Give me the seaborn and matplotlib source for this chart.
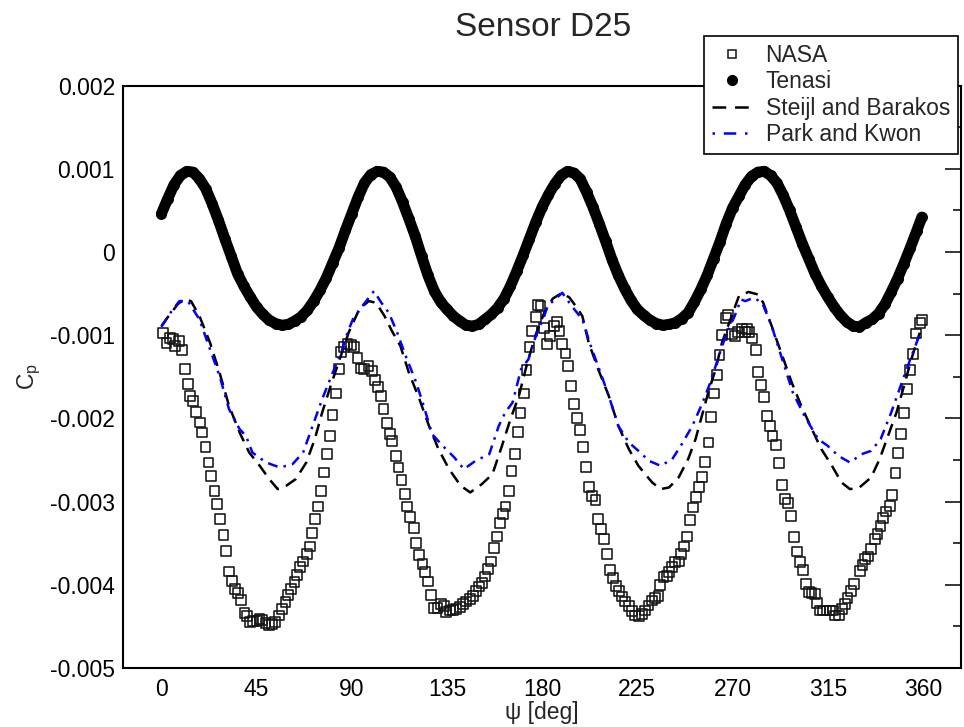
import matplotlib
matplotlib.use("Agg")
import numpy as np
import pandas as pd
import matplotlib.pyplot as plt
import seaborn as sns
from matplotlib.lines import Line2D
from matplotlib.ticker import MultipleLocator, FuncFormatter

# values (Cp given in units of 1e-4)
nasa_psi = [0.8, 2.4, 4.0, 5.5, 6.6, 8.3, 9.7, 11.0, 12.6, 13.7, 14.9, 16.5, 18.1, 19.1, 20.9,
            22.3, 23.6, 25.1, 26.4, 27.8, 29.4, 30.6, 31.9, 33.5, 34.9, 36.1, 37.7, 39.3, 40.4,
            42.0, 43.5, 45.1, 46.4, 47.6, 49.2, 50.8, 52.4, 53.9, 55.5, 57.1, 58.7, 59.9, 61.3,
            62.9, 64.0, 65.6, 67.1, 68.7, 70.3, 71.2, 72.8, 74.2, 75.6, 77.0, 78.3, 79.7, 80.9,
            82.5, 83.8, 85.0, 86.4, 88.0, 89.6, 91.2, 92.7, 94.3, 95.9, 97.9, 99.5, 100.9, 102.5,
            103.8, 105.0, 106.6, 108.0, 109.2, 110.8, 112.1, 113.5, 115.1, 116.3, 117.7, 119.3,
            120.5, 121.8, 123.4, 124.8, 126.2, 127.6, 128.9, 130.5, 132.1, 133.6, 134.7, 136.3,
            137.9, 139.4, 141.0, 142.6, 144.1, 145.7, 147.3, 148.9, 150.1, 151.4, 152.8, 154.3,
            155.8, 157.2, 158.6, 160.1, 161.3, 162.7, 164.3, 165.5, 167.0, 168.4, 169.8, 171.4,
            172.6, 174.0, 175.3, 176.9, 178.0, 179.2, 181.0, 182.4, 183.9, 185.5, 187.0, 188.2,
            189.4, 191.0, 192.2, 193.7, 194.9, 196.5, 197.8, 199.2, 200.9, 202.0, 203.6, 205.2,
            206.4, 207.8, 209.4, 210.6, 211.9, 213.3, 214.9, 216.2, 217.7, 219.3, 220.9, 222.4,
            224.0, 225.6, 227.1, 228.7, 230.3, 231.8, 233.4, 235.0, 235.8, 237.4, 238.9, 240.1,
            241.3, 242.9, 244.5, 245.7, 247.1, 248.6, 250.0, 251.4, 252.8, 254.2, 255.6, 257.0,
            258.6, 259.9, 261.3, 262.5, 263.8, 265.2, 266.8, 268.0, 269.6, 271.2, 272.7, 274.3,
            275.9, 277.0, 277.9, 279.3, 280.9, 282.2, 283.5, 284.9, 286.4, 287.7, 288.9, 290.5,
            291.9, 293.2, 294.8, 296.3, 297.6, 299.1, 300.4, 301.8, 303.4, 304.9, 306.1, 307.3,
            308.9, 310.1, 311.4, 312.8, 314.4, 316.0, 317.5, 318.6, 320.2, 321.8, 323.1, 324.3,
            325.9, 327.3, 330.1, 331.4, 332.8, 334.1, 335.6, 337.3, 338.5, 339.9, 341.3, 342.7,
            344.3, 345.4, 347.0, 348.3, 349.6, 351.0, 352.4, 354.0, 355.3, 356.9, 358.5, 359.7]
nasa_cp = [-9.7, -10.9, -10.3, -10.5, -11.3, -10.7, -11.8, -14.1, -15.9, -17.3, -17.9, -19.2, -20.5, -21.7, -23.4,
           -25.3, -26.9, -28.7, -30.3, -32.1, -34.0, -35.9, -38.4, -39.5, -40.5, -41.0, -41.8, -43.4, -43.8,
           -44.5, -44.4, -44.4, -44.1, -44.2, -44.6, -44.8, -44.7, -44.5, -43.7, -42.9, -42.1, -41.2, -40.5,
           -39.7, -38.8, -37.9, -37.2, -36.3, -35.4, -33.8, -32.1, -30.6, -28.7, -26.5, -24.3, -22.1, -19.6,
           -17.0, -14.1, -12.0, -11.4, -11.1, -11.2, -11.4, -12.7, -14.0, -14.1, -13.7, -14.3, -15.4, -16.2,
           -17.3, -18.9, -20.6, -21.9, -22.7, -24.5, -25.9, -27.4, -29.1, -30.6, -31.9, -33.2,
           -35.0, -36.4, -37.5, -38.5, -39.6, -41.2, -42.8, -42.8, -42.3, -42.6, -43.3, -43.1,
           -43.0, -42.9, -42.7, -42.3, -42.0, -41.7, -41.3, -40.7, -40.2, -39.8, -39.0, -38.1,
           -37.2, -35.6, -34.2, -32.6, -31.5, -30.6, -28.7, -26.3, -24.3, -21.6, -19.4, -17.0,
           -14.2, -11.4, -9.5, -7.8, -6.4, -6.5, -9.1, -11.1, -10.1, -8.9, -8.4, -9.5,
           -11.1, -12.2, -13.7, -16.1, -18.3, -20.0, -21.4, -23.4, -25.8, -28.2, -29.3, -29.8,
           -32.1, -33.3, -34.5, -36.3, -38.2, -39.2, -40.1, -40.7, -41.4, -42.0, -42.6, -43.2,
           -43.7, -43.8, -43.5, -43.1, -42.5, -41.9, -41.6, -41.3, -40.0, -39.1, -38.9, -38.5,
           -37.9, -37.3, -37.2, -36.3, -35.4, -34.2, -32.2, -30.7, -29.4, -28.2, -27.0, -25.2,
           -22.9, -19.8, -17.0, -14.8, -12.4, -10.0, -7.9, -7.6, -9.9, -10.1, -9.6, -9.2,
           -9.6, -9.3, -9.6, -10.4, -11.8, -14.4, -16.0, -17.4, -19.7, -20.9, -22.1, -23.2,
           -25.4, -28.0, -29.7, -30.2, -31.7, -34.3, -36.0, -37.3, -38.2, -39.9, -40.9, -41.0,
           -41.1, -42.2, -43.1, -43.1, -43.1, -43.1, -43.1, -43.7, -43.7, -42.9, -42.3, -41.6,
           -40.7, -39.9, -38.3, -37.6, -36.9, -36.6, -35.7, -34.5, -33.9, -32.9, -32.0, -31.2,
           -30.5, -29.2, -26.6, -24.2, -21.9, -19.4, -16.5, -14.2, -12.3, -9.8, -8.5, -8.2]

tenasi_psi = [0, 3, 6, 9, 12, 15, 18, 21, 24, 27, 30, 33, 36, 39, 42, 45, 48, 51, 54, 57,
              60, 63, 66, 69, 72, 75, 78, 81, 84, 87, 90, 93, 96, 99, 102, 105, 108, 111, 114, 117,
              120, 123, 126, 129, 132, 135, 138, 141, 144, 147, 150, 153, 156, 159, 162, 165, 168, 171, 174, 177,
              180, 183, 186, 189, 192, 195, 198, 201, 204, 207, 210, 213, 216, 219, 222, 225, 228, 231, 234, 237,
              240, 243, 246, 249, 252, 255, 258, 261, 264, 267, 270, 273, 276, 279, 282, 285, 288, 291, 294, 297,
              300, 303, 306, 309, 312, 315, 318, 321, 324, 327, 330, 333, 336, 339, 342, 345, 348, 351, 354, 357,
              359.5]
tenasi_cp = [4.6, 6.4, 8.1, 9.2, 9.7, 9.6, 8.8, 7.6, 5.8, 3.8, 1.6, -0.5, -2.6, -4.1, -5.4, -6.6, -7.5, -8.2, -8.6, -8.8,
             -8.7, -8.3, -7.8, -7.0, -5.9, -4.6, -3.1, -1.3, 0.5, 2.6, 4.6, 6.6, 8.3, 9.3, 9.7, 9.6, 9.0, 7.8, 6.0, 4.0,
             1.9, -0.5, -2.8, -4.7, -6.0, -6.9, -7.7, -8.3, -8.8, -8.9, -8.7, -8.1, -7.5, -6.7, -5.6, -4.1, -2.3, -0.4, 1.6, 3.6,
             5.4, 6.9, 8.2, 9.2, 9.7, 9.5, 8.8, 7.2, 5.4, 3.4, 1.3, -0.9, -2.8, -4.4, -5.8, -6.9, -7.6, -8.2, -8.6, -8.8,
             -8.7, -8.5, -8.0, -7.3, -6.0, -4.5, -2.8, -0.8, 1.2, 3.4, 5.3, 6.7, 8.1, 9.1, 9.6, 9.7, 9.2, 8.3, 6.8, 5.0,
             3.0, 1.0, -0.8, -2.6, -4.1, -5.4, -6.6, -7.6, -8.4, -8.9, -9.0, -8.5, -8.1, -7.4, -6.3, -4.8, -3.2, -1.4, 0.5, 2.5,
             4.2]

steijl_psi = [0, 4, 8, 11, 14, 18, 23, 27.5, 32, 37, 41.5, 46.5, 51, 55, 59, 63.5, 68.5, 72.5, 76, 80,
              84, 88.5, 93.5, 98, 101.5, 105.5, 109, 113, 117, 122, 126.5, 131, 136, 141.5, 146, 151.5, 156.5,
              161, 165, 169, 173, 177, 181, 185, 189.5, 193, 197, 199, 202, 206.5, 211.5, 216, 221, 225.5,
              232, 236, 240, 244.5, 249, 252.5, 255.5, 258.5, 262, 265, 269, 273, 277.5, 282, 284.5, 288.5,
              293, 298, 302.5, 307.5, 312, 317, 321.5, 325.5, 330, 335.5, 339.5, 343.5, 347.5, 351.5, 354.5, 358.5]
steijl_cp = [-8.9, -7.5, -6.2, -5.7, -5.9, -7.7, -10.9, -14.5, -18.5, -21.7, -24.1, -25.7, -27.3, -28.5, -28.1, -27.3, -25.3, -22.5, -19.3, -16.1,
             -13.1, -9.7, -6.9, -5.9, -6.1, -7.7, -9.5, -11.3, -14.5, -17.7, -20.9, -23.7, -26.1, -28.1, -28.9, -27.9, -26.7,
             -23.3, -20.1, -17.3, -13.3, -9.9, -7.3, -5.6, -4.9, -5.5, -6.9, -7.7, -10.9, -14.1, -17.3, -20.9, -23.7, -25.7,
             -27.7, -28.5, -28.3, -27.1, -24.9, -22.5, -19.7, -16.9, -14.1, -10.9, -8.1, -5.3, -4.8, -5.1, -6.1, -8.9,
             -12.1, -15.7, -18.5, -21.3, -23.7, -25.7, -27.7, -28.5, -28.3, -27.1, -24.9, -22.1, -19.3, -15.7, -12.9, -9.7]

park_psi = [0, 4, 8.5, 12.5, 18, 23, 27.5, 32, 37, 40, 43, 49.5, 56, 62, 67, 71.5, 76, 81, 85, 88,
            90.5, 95, 100.5, 104, 107.5, 111.5, 115.5, 120.5, 124, 128, 133, 138.5, 143, 148.5, 155, 159.5,
            162.5, 166, 170, 173.5, 177, 181, 182.5, 189.5, 194, 199, 203, 207, 211.5, 216, 221, 225.5,
            230.5, 236, 241.5, 246, 251, 255.5, 259.5, 263.5, 267, 271, 274, 276, 280, 284, 288.5, 293,
            298.5, 304, 310.5, 315, 320, 325.5, 331, 335.5, 340, 345, 350, 354, 358.5]
park_cp = [-9.0, -7.4, -5.9, -5.9, -8.1, -11.7, -14.9, -18.9, -21.3, -22.1, -24.1, -25.3, -25.9, -25.5, -24.1, -20.9, -17.7, -14.5, -12.1, -9.7,
           -8.1, -6.5, -4.7, -6.1, -7.3, -9.7, -12.5, -15.7, -18.5, -21.9, -23.3, -24.7, -26.1, -25.1, -24.3, -20.9,
           -19.3, -18.1, -14.1, -12.9, -10.1, -7.7, -6.5, -4.9, -6.5, -8.1, -11.3, -14.1, -17.3, -20.9, -22.9, -23.9,
           -25.1, -25.7, -24.9, -23.1, -20.9, -18.3, -15.7, -12.5, -9.9, -7.7, -5.7, -5.9, -5.5, -6.1, -8.9, -12.5,
           -16.9, -19.7, -22.5, -23.3, -24.5, -25.3, -24.3, -23.9, -22.5, -19.3, -15.7, -12.9, -9.9]

nasa = pd.DataFrame({"psi": nasa_psi, "cp": np.array(nasa_cp) * 1e-4})
tenasi = pd.DataFrame({"psi": tenasi_psi, "cp": np.array(tenasi_cp) * 1e-4})
steijl = pd.DataFrame({"psi": steijl_psi, "cp": np.array(steijl_cp) * 1e-4})
park = pd.DataFrame({"psi": park_psi, "cp": np.array(park_cp) * 1e-4})

sns.set_style("white")
plt.rcParams["font.family"] = ["Liberation Sans", "DejaVu Sans"]
plt.rcParams["mathtext.fontset"] = "custom"
plt.rcParams["mathtext.rm"] = "Liberation Sans"
plt.rcParams["axes.unicode_minus"] = False

fig = plt.figure(figsize=(9.64, 7.27), dpi=100)
ax = fig.add_axes([0.1279, 0.0812, 0.869, 0.801])

sns.scatterplot(data=nasa, x="psi", y="cp", marker="s", s=50, facecolors="none",
                edgecolor="#151515", linewidth=1.15, ax=ax)
# Tenasi samples are so dense in the reference that they merge into a solid band
sns.lineplot(data=tenasi, x="psi", y="cp", color="black", linewidth=7.9, marker="o",
             markersize=7.9, markeredgewidth=0, solid_capstyle="round", solid_joinstyle="round",
             sort=False, estimator=None, ax=ax)
sns.lineplot(data=steijl, x="psi", y="cp", color="black", linewidth=1.8, linestyle=(0, (5, 3)),
             sort=False, estimator=None, ax=ax)
sns.lineplot(data=park, x="psi", y="cp", color="#0000ff", linewidth=1.8, linestyle=(0, (4, 2.5, 1, 2.5)),
             sort=False, estimator=None, ax=ax)

ax.set_xlim(-18, 378)
ax.set_ylim(-0.005, 0.002)
ax.xaxis.set_major_locator(MultipleLocator(45))
ax.xaxis.set_minor_locator(MultipleLocator(9))
ax.yaxis.set_major_locator(MultipleLocator(0.001))
ax.yaxis.set_minor_locator(MultipleLocator(0.0005))
ax.yaxis.set_major_formatter(FuncFormatter(lambda v, p: "0" if abs(v) < 1e-9 else f"{v:.3f}"))

ax.tick_params(which="both", direction="in", right=True, top=False, width=1.1, colors="black")
ax.tick_params(which="major", length=11.5, labelsize=16.5)
ax.tick_params(axis="y", which="major", pad=6)
ax.tick_params(axis="x", which="major", pad=7)
ax.tick_params(which="minor", length=5.8)
for sp in ax.spines.values():
    sp.set_color("black")
    sp.set_linewidth(1.5)

ax.set_xlabel("ψ [deg]", fontsize=16.5)
ax.set_ylabel(r"C$_\mathrm{p}$", fontsize=16.5)
ax.xaxis.set_label_coords(0.5, -0.057)
ax.yaxis.set_label_coords(-0.096, 0.5)

fig.text(0.5638, 1 - 27 / 727, "Sensor D25", ha="center", va="center", fontsize=24)

handles = [
    Line2D([], [], marker="s", ls="none", mfc="none", mec="#151515", ms=6, mew=1.1),
    Line2D([], [], marker="o", ls="none", color="black", ms=7),
    Line2D([], [], color="black", lw=1.8, ls=(0, (5.5, 3.5))),
    Line2D([], [], color="#0000ff", lw=1.8, ls=(0, (1, 3.5, 5, 3.5))),
]
labels = ["NASA", "Tenasi", "Steijl and Barakos", "Park and Kwon"]
leg = ax.legend(handles, labels, loc="upper right", bbox_to_anchor=(958 / 964, 1 - 36 / 727),
                bbox_transform=fig.transFigure, fontsize=16.5, frameon=True, fancybox=False,
                edgecolor="black", framealpha=1, handlelength=1.8, handletextpad=0.55,
                labelspacing=0.15, borderpad=0.35, borderaxespad=0)
leg.get_frame().set_linewidth(1.2)

fig.savefig("out.png", dpi=100)
